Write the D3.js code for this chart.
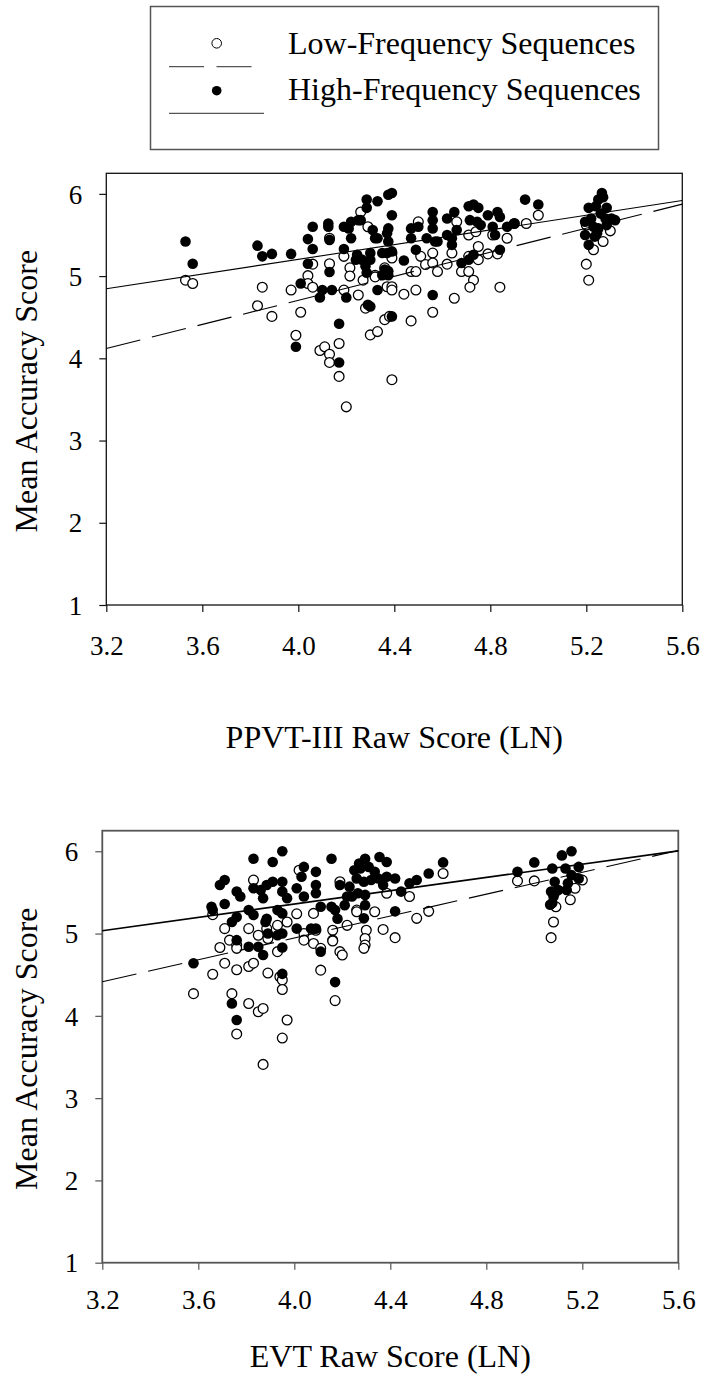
<!DOCTYPE html>
<html><head><meta charset="utf-8">
<script src="https://cdn.jsdelivr.net/npm/d3@7"></script>
<style>body{margin:0;background:#fff}svg{display:block}text{font-family:"Liberation Serif","Times New Roman",serif;fill:#000}</style>
</head><body>
<script>
// ---------- data ----------
const xTicks = [3.2, 3.6, 4.0, 4.4, 4.8, 5.2, 5.6];
const yTicks = [1, 2, 3, 4, 5, 6];
const legendLabels = ["Low-Frequency Sequences", "High-Frequency Sequences"];
const xTitles = ["PPVT-III Raw Score (LN)", "EVT Raw Score (LN)"];
const yTitle = "Mean Accuracy Score";

// regression lines: fitted values at x = 3.2 and x = 5.6
const ppvtLowFit = [4.12, 5.875];
const ppvtHighFit = [4.845, 5.92];
const evtLowFit = [4.415, 6.01];
const evtHighFit = [5.035, 6.005];

const ppvtLow = [[3.53,4.95],[3.56,4.91],[3.85,4.865],[3.83,4.64],[3.89,4.51],[3.97,4.83],[4.01,4.56],[3.99,4.28],[4.04,5.005],[4.04,4.91],[4.06,4.865],[4.06,5.145],[4.09,4.095],[4.11,4.14],[4.13,4.05],[4.13,3.95],[4.17,4.18],[4.17,3.78],[4.20,3.41],[4.13,5.46],[4.13,5.15],[4.19,5.24],[4.215,5.10],[4.215,5.00],[4.19,4.83],[4.25,4.77],[4.26,5.78],
[4.29,5.60],[4.28,4.61],[4.30,4.285],[4.33,4.325],[4.36,4.47],[4.27,4.95],[4.32,5.01],[4.37,4.87],[4.39,3.74],[4.38,4.51],[4.32,4.99],
[4.50,5.66],[4.39,5.28],[4.39,5.22],[4.39,4.87],[4.39,4.83],[4.36,5.10],[4.44,4.78],[4.49,4.83],[4.47,5.055],[4.49,5.055],[4.51,5.24],[4.53,5.14],[4.56,5.28],[4.56,5.16],[4.58,5.055],[4.62,5.145],[4.64,5.28],[4.66,5.66],[4.65,4.73],[4.56,4.56],[4.47,4.455],[4.71,5.50],[4.74,5.54],[4.75,5.36],[4.71,5.24],[4.75,5.20],[4.68,5.055],[4.71,5.055],[4.73,4.95],[4.715,4.865],[4.79,5.27],[4.83,5.27],[4.84,4.865],[4.87,5.46],[4.81,5.50],[4.95,5.64],[5.00,5.74],[4.90,5.64],
[5.20,5.145],[5.21,4.95],[5.23,5.32],[5.27,5.42],[5.30,5.55],[5.20,5.62]];

const ppvtHigh = [[3.53,5.42],[3.56,5.15],[3.83,5.37],[3.85,5.24],[3.89,5.27],[3.97,5.27],[4.01,4.91],[3.99,4.14],[4.06,5.60],[4.04,5.45],[4.06,5.33],[4.04,5.15],[4.09,4.74],[4.125,5.64],[4.125,5.60],[4.13,5.44],[4.13,5.05],[4.10,4.83],[4.14,4.83],[4.17,4.42],[4.17,3.95],[4.19,5.60],[4.21,5.58],[4.22,5.66],[4.22,5.46],[4.19,5.33],[4.20,4.74],[4.24,5.20],[4.25,5.68],
[4.285,5.93],[4.33,5.91],[4.285,5.83],[4.26,5.68],[4.31,5.56],[4.33,5.46],[4.37,5.52],[4.375,5.99],[4.245,5.26],[4.30,5.20],[4.28,5.12],[4.285,5.04],[4.35,5.01],[4.33,4.83],[4.30,4.63],[4.37,5.28],[4.29,4.65],
[4.32,5.46],[4.35,5.28],[4.36,5.08],[4.30,5.28],[4.265,5.20],
[4.39,6.01],[4.39,5.74],[4.375,5.58],[4.375,5.42],[4.39,5.30],[4.375,5.06],[4.375,5.01],[4.39,4.51],[4.44,5.19],[4.47,5.58],[4.50,5.60],[4.47,5.46],[4.49,5.32],[4.56,5.78],[4.56,5.68],[4.56,5.58],[4.535,5.46],[4.57,5.42],[4.58,5.42],[4.62,5.70],[4.65,5.78],[4.62,5.50],[4.64,5.46],[4.64,5.38],[4.66,5.56],[4.56,4.77],[4.68,5.16],[4.71,5.20],[4.73,5.26],[4.71,5.85],[4.73,5.87],[4.75,5.83],[4.715,5.68],[4.745,5.66],[4.76,5.62],[4.79,5.74],[4.83,5.78],[4.84,5.72],[4.81,5.60],[4.82,5.50],[4.87,5.60],[4.90,5.64],[4.84,5.32],[4.945,5.93],[5.00,5.87],
[5.265,6.01],[5.25,5.93],[5.21,5.83],[5.24,5.85],[5.285,5.83],[5.195,5.66],[5.22,5.70],[5.28,5.70],[5.305,5.70],[5.25,5.58],[5.285,5.62],[5.195,5.50],[5.235,5.48],[5.21,5.38],[5.245,5.52],[5.32,5.68],[5.27,5.96],[5.26,5.76],[5.23,5.60]];

const evtLow = [[3.58,4.27],[3.66,5.23],[3.66,4.505],[3.69,4.83],[3.71,5.06],[3.71,4.64],[3.74,4.27],[3.73,4.92],[3.76,4.86],[3.76,4.82],[3.76,4.56],[3.76,3.78],[3.81,4.60],[3.83,4.64],[3.81,4.15],[3.85,4.05],[3.87,4.09],[3.87,3.41],[3.83,5.65],[3.81,5.06],[3.85,4.98],[3.885,5.06],[3.89,4.94],[3.89,4.52],[3.93,5.10],[3.93,4.78],[3.94,4.475],[3.95,4.435],[3.95,4.32],[3.95,3.73],[3.97,3.95],[3.97,5.14],[4.01,5.24],[4.02,5.77],[4.04,5.00],[4.04,4.92],[4.08,4.88],[4.08,5.245],[4.09,5.04],[4.11,4.82],[4.11,4.555],[4.16,5.04],[4.16,4.92],[4.17,4.185],[4.19,4.78],[4.20,4.74],[4.22,5.10],[4.19,5.63],[4.26,5.285],
[4.26,5.265],[4.335,5.265],[4.16,4.91],[4.30,5.04],[4.295,4.94],[4.295,4.86],[4.29,4.82],[4.37,5.05],[4.42,4.95],[4.385,5.49],[4.48,5.45],[4.51,5.185],[4.56,5.27],[4.62,5.73],
[4.93,5.64],[5.00,5.64],[5.08,5.14],[5.07,4.95],[5.09,5.325],[5.15,5.41],[5.20,5.65],[5.17,5.55]];

const evtHigh = [[3.58,4.64],[3.655,5.325],[3.66,5.285],[3.69,5.59],[3.71,5.65],[3.71,5.36],[3.74,4.15],[3.76,3.95],[3.76,5.51],[3.775,5.45],[3.74,5.14],[3.76,5.20],[3.76,4.92],[3.81,4.84],[3.85,4.84],[3.87,4.74],[3.81,5.285],[3.83,5.225],[3.83,5.91],[3.83,5.55],[3.86,5.53],[3.87,5.43],[3.88,5.14],[3.885,5.59],[3.91,5.63],[3.91,5.87],[3.885,5.18],[3.89,5.00],[3.93,5.285],[3.93,4.98],[3.95,6.00],[3.95,5.63],[3.95,5.51],[3.97,5.43],[3.95,5.245],[3.95,5.00],[3.95,4.83],[3.95,4.51],[4.01,5.06],[4.01,5.55],[4.03,5.69],[4.04,5.81],[4.04,5.45],[4.09,5.75],[4.09,5.59],[4.09,5.49],[4.07,5.06],[4.09,5.06],[4.11,5.325],[4.11,4.78],[4.155,5.91],[4.155,5.325],[4.17,5.285],[4.18,5.18],[4.17,4.41],[4.19,5.59],[4.22,5.45],[4.23,5.57],[4.25,5.77],[4.27,5.85],
[4.295,5.91],[4.355,5.93],[4.385,5.87],[4.275,5.79],[4.31,5.81],[4.335,5.75],[4.26,5.67],[4.29,5.63],[4.32,5.65],[4.35,5.67],[4.24,5.45],[4.265,5.49],[4.295,5.47],[4.385,5.69],[4.42,5.67],[4.37,5.59],[4.445,5.51],[4.48,5.61],[4.51,5.65],[4.56,5.73],[4.62,5.865],[4.21,5.345],[4.29,5.185],[4.295,5.345],[4.42,5.27],
[4.93,5.75],[5.00,5.865],[5.075,5.79],[5.115,5.95],[5.155,6.00],[5.085,5.63],[5.085,5.49],[5.075,5.37],[5.13,5.79],[5.155,5.71],[5.185,5.81],[5.14,5.61],[5.185,5.67],[5.10,5.53],[5.07,5.51],[5.08,5.45],[5.066,5.35],[5.135,5.53]];

// ---------- drawing ----------
const W = 705, H = 1382;
const svg = d3.select("body").append("svg").attr("width", W).attr("height", H);
const DASH = "35,12";

// legend
const lg = svg.append("g");
lg.append("rect").attr("x", 150.5).attr("y", 6.5).attr("width", 508).attr("height", 143)
  .attr("fill", "none").attr("stroke", "#555").attr("stroke-width", 1.5);
lg.append("circle").attr("cx", 216.7).attr("cy", 43.3).attr("r", 4.8).attr("fill", "#fff").attr("stroke", "#000").attr("stroke-width", 1);
lg.append("line").attr("x1", 169).attr("x2", 252).attr("y1", 66.7).attr("y2", 66.7)
  .attr("stroke", "#555").attr("stroke-width", 1.3).attr("stroke-dasharray", "35,12.5");
lg.append("circle").attr("cx", 216.7).attr("cy", 90.7).attr("r", 4.8).attr("fill", "#000");
lg.append("line").attr("x1", 169).attr("x2", 264).attr("y1", 113.3).attr("y2", 113.3)
  .attr("stroke", "#555").attr("stroke-width", 1.3);
lg.selectAll("text.lab").data(legendLabels).join("text").attr("class", "lab")
  .attr("x", 288).attr("y", (d, i) => 54 + i * 46).attr("font-size", 32).text(d => d);

function panel(cfg) {
  const x = d3.scaleLinear().domain([3.2, 5.6]).range([cfg.left, cfg.right]);
  const y = d3.scaleLinear().domain([1, 6.25]).range([cfg.bottom, cfg.top]);
  const g = svg.append("g");

  // frame
  g.append("rect").attr("x", cfg.left).attr("y", cfg.top)
    .attr("width", cfg.right - cfg.left).attr("height", cfg.bottom - cfg.top)
    .attr("fill", "none").attr("stroke", cfg.frame).attr("stroke-width", cfg.fw);

  // axes
  const xa = g.append("g").attr("transform", `translate(0,${cfg.bottom})`)
    .call(d3.axisBottom(x).tickValues(xTicks).tickFormat(d3.format(".1f")).tickSize(7).tickSizeOuter(0).tickPadding(cfg.xPad));
  const ya = g.append("g").attr("transform", `translate(${cfg.left},0)`)
    .call(d3.axisLeft(y).tickValues(yTicks).tickFormat(d3.format("d")).tickSize(7).tickSizeOuter(0).tickPadding(17));
  [xa, ya].forEach(a => {
    a.select(".domain").remove();
    a.selectAll(".tick line").attr("stroke", cfg.frame).attr("stroke-width", 1.2);
    a.selectAll(".tick text").attr("font-family", "Liberation Serif").attr("font-size", 27).attr("fill", "#000");
  });
  ya.selectAll(".tick text").attr("dy", "0.34em");

  // points
  g.append("g").selectAll("circle").data(cfg.low).join("circle")
    .attr("cx", d => x(d[0])).attr("cy", d => y(d[1])).attr("r", 4.9)
    .attr("fill", "#fff").attr("stroke", "#000").attr("stroke-width", 1.3);
  g.append("g").selectAll("circle").data(cfg.high).join("circle")
    .attr("cx", d => x(d[0])).attr("cy", d => y(d[1])).attr("r", 5.3)
    .attr("fill", "#000");

  // fit lines
  const line = d3.line().x(d => x(d[0])).y(d => y(d[1]));
  g.append("path").datum([[3.2, cfg.lowFit[0]], [5.6, cfg.lowFit[1]]]).attr("d", line)
    .attr("fill", "none").attr("stroke", "#000").attr("stroke-width", 1.1).attr("stroke-dasharray", DASH);
  g.append("path").datum([[3.2, cfg.highFit[0]], [5.6, cfg.highFit[1]]]).attr("d", line)
    .attr("fill", "none").attr("stroke", "#000").attr("stroke-width", cfg.lw);

  // titles
  g.append("text").attr("x", (cfg.left + cfg.right) / 2).attr("y", cfg.xTitleY)
    .attr("text-anchor", "middle").attr("font-size", 32).text(cfg.xTitle);
  g.append("text").attr("transform", `translate(37,${(cfg.top + cfg.bottom) / 2 + 2}) rotate(-90)`)
    .attr("text-anchor", "middle").attr("font-size", 32).text(yTitle);
}

panel({left: 106.3, right: 682.3, top: 173.3, bottom: 605, frame: "#111", fw: 1.3, lw: 1.1, xPad: 24,
  low: ppvtLow, high: ppvtHigh, lowFit: ppvtLowFit, highFit: ppvtHighFit, xTitle: xTitles[0], xTitleY: 748});
panel({left: 102.3, right: 678.3, top: 830.7, bottom: 1262.7, frame: "#555", fw: 1.8, lw: 1.6, xPad: 20,
  low: evtLow, high: evtHigh, lowFit: evtLowFit, highFit: evtHighFit, xTitle: xTitles[1], xTitleY: 1367});
</script>
</body></html>
